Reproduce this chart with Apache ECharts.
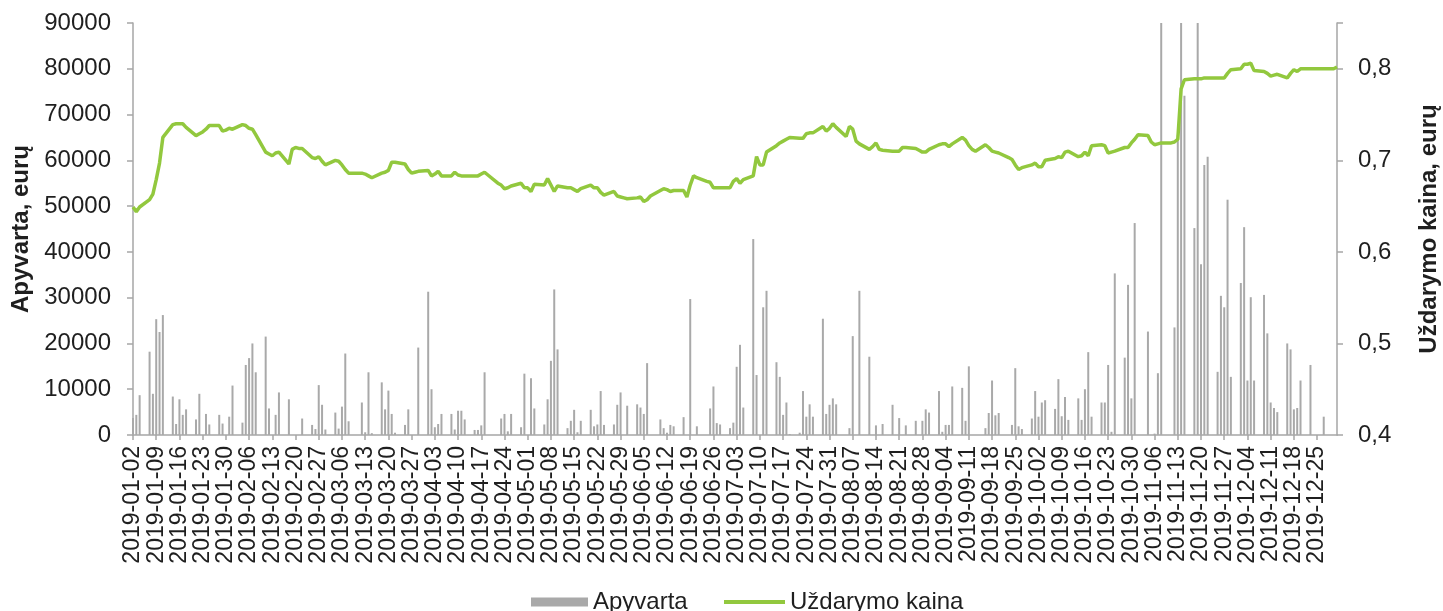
<!DOCTYPE html>
<html lang="lt">
<head>
    <meta charset="UTF-8">
    <title>Apyvarta ir uždarymo kaina 2019</title>
    <script src="https://cdn.jsdelivr.net/npm/echarts@6/dist/echarts.min.js"></script>
    <style>
        html, body { margin: 0; padding: 0; background: #fff; }
        #chart { width: 1443px; height: 611px; }
    </style>
</head>
<body>
<div id="chart"></div>

<script>
    // dienos apyvarta (eurai), po viena reikšmę kiekvienai darbo dienai (pirm.-penkt.)
    const turnoverJan = [3700, 4400, 8700, 18200, 9000, 25300, 22500, 26200, 8400, 2400, 7800, 4400, 5600, 3400, 9000, 0, 4600, 2300, 4400, 2500, 0, 4000];
    const turnoverFeb = [10800, 2700, 15300, 16800, 20000, 13700, 21500, 5800, 0, 4400, 9300, 7800, 0, 0, 0, 3600, 2200, 1300, 10900, 6600];
    const turnoverMar = [1200, 4900, 1400, 6200, 17800, 3000, 0, 7100, 600, 13700, 400, 11500, 5600, 9700, 4600, 500, 2200, 5600, 0, 0, 19100];
    const turnoverApr = [31300, 10000, 1700, 2400, 4600, 4600, 1200, 5300, 5300, 3400, 1100, 1100, 2100, 13700, 0, 0, 3600, 4600, 800, 4600, 1700, 13400];
    const turnoverMay = [0, 12400, 5800, 2300, 7800, 16200, 31800, 18700, 1500, 3100, 5500, 600, 3100, 5500, 1900, 2300, 9600, 2200, 2300, 6600, 9300, 0, 6400];
    const turnoverJun = [6700, 6000, 4600, 15700, 0, 3400, 1500, 500, 2200, 1900, 3900, 0, 29700, 0, 1900, 0, 5800, 10600, 2600, 2300];
    const turnoverJul = [1500, 2700, 14900, 19700, 6000, 42800, 13100, 0, 27900, 31500, 15900, 12700, 4400, 7100, 200, 500, 9600, 4000, 6700, 4000, 25400, 4600, 6600];
    const turnoverAug = [8000, 6700, 0, 1500, 21600, 0, 31500, 17100, 0, 2100, 0, 2400, 6600, 0, 3700, 0, 2100, 3100, 0, 3100, 5600, 4900];
    const turnoverSep = [9600, 700, 2200, 2200, 10600, 10300, 3100, 15000, 0, 0, 1500, 4800, 11900, 4300, 4800, 0, 2200, 14600, 1900, 1300, 3600];
    const turnoverOct = [9600, 4000, 7100, 7600, 5700, 12200, 4100, 8300, 3300, 8000, 3300, 10000, 18100, 4000, 7100, 7100, 15300, 700, 35300, 16900, 32800, 8000, 46300];
    const turnoverNov = [0, 22600, 0, 300, 13500, 105000, 0, 23500, 65600, 115000, 74100, 45200, 98000, 37300, 59000, 60800, 13800, 30400, 27900, 51400, 12700];
    const turnoverDec = [33200, 45400, 11900, 30100, 11900, 30600, 22200, 7100, 5900, 5000, 20000, 18700, 5600, 5900, 11900, 15300, 0, 0, 0, 4000, 0, 0];

    // uždarymo kaina (eurai)
    const priceJan = [0.649, 0.644, 0.649, 0.657, 0.663, 0.679, 0.697, 0.725, 0.739, 0.740, 0.740, 0.740, 0.736, 0.727, 0.729, 0.731, 0.734, 0.738, 0.738, 0.732, 0.733, 0.735];
    const priceFeb = [0.734, 0.739, 0.738, 0.735, 0.734, 0.728, 0.709, 0.707, 0.705, 0.708, 0.709, 0.696, 0.712, 0.714, 0.713, 0.713, 0.703, 0.702, 0.704, 0.699];
    const priceMar = [0.695, 0.700, 0.699, 0.695, 0.690, 0.686, 0.686, 0.686, 0.685, 0.683, 0.681, 0.686, 0.687, 0.689, 0.698, 0.698, 0.696, 0.690, 0.686, 0.687, 0.688];
    const priceApr = [0.689, 0.683, 0.685, 0.688, 0.683, 0.683, 0.687, 0.684, 0.683, 0.683, 0.683, 0.683, 0.685, 0.687, 0.684, 0.675, 0.673, 0.669, 0.670, 0.672, 0.675, 0.670];
    const priceMay = [0.670, 0.666, 0.674, 0.673, 0.680, 0.673, 0.666, 0.672, 0.670, 0.670, 0.668, 0.666, 0.669, 0.673, 0.670, 0.670, 0.665, 0.662, 0.666, 0.661, 0.660, 0.659, 0.658];
    const priceJun = [0.659, 0.660, 0.655, 0.657, 0.661, 0.667, 0.669, 0.668, 0.666, 0.667, 0.667, 0.660, 0.673, 0.683, 0.681, 0.677, 0.676, 0.670, 0.670, 0.670];
    const priceJul = [0.670, 0.677, 0.680, 0.675, 0.679, 0.683, 0.704, 0.695, 0.695, 0.709, 0.716, 0.719, 0.721, 0.723, 0.725, 0.724, 0.724, 0.729, 0.730, 0.730, 0.737, 0.732, 0.735];
    const priceAug = [0.740, 0.736, 0.726, 0.737, 0.734, 0.721, 0.718, 0.712, 0.715, 0.719, 0.712, 0.711, 0.710, 0.710, 0.710, 0.714, 0.714, 0.713, 0.711, 0.709, 0.709, 0.712];
    const priceSep = [0.717, 0.718, 0.718, 0.715, 0.718, 0.725, 0.722, 0.716, 0.712, 0.710, 0.717, 0.714, 0.710, 0.709, 0.708, 0.703, 0.701, 0.695, 0.690, 0.692, 0.695];
    const priceOct = [0.697, 0.693, 0.693, 0.700, 0.702, 0.704, 0.703, 0.709, 0.710, 0.704, 0.705, 0.709, 0.705, 0.716, 0.717, 0.716, 0.708, 0.709, 0.710, 0.714, 0.714, 0.719, 0.723];
    const priceNov = [0.728, 0.727, 0.720, 0.717, 0.718, 0.719, 0.719, 0.720, 0.723, 0.778, 0.788, 0.789, 0.789, 0.789, 0.790, 0.790, 0.790, 0.790, 0.790, 0.795, 0.799];
    const priceDec = [0.800, 0.805, 0.805, 0.806, 0.798, 0.797, 0.795, 0.792, 0.793, 0.794, 0.790, 0.795, 0.799, 0.797, 0.800, 0.800, 0.800, 0.800, 0.800, 0.800, 0.800, 0.802];

    const turnoverByMonth = [turnoverJan, turnoverFeb, turnoverMar, turnoverApr, turnoverMay, turnoverJun,
        turnoverJul, turnoverAug, turnoverSep, turnoverOct, turnoverNov, turnoverDec];
    const priceByMonth = [priceJan, priceFeb, priceMar, priceApr, priceMay, priceJun,
        priceJul, priceAug, priceSep, priceOct, priceNov, priceDec];

    // kalendorinės dienos ašiai: 2019-01-02 ... 2019-12-31
    const categories = [];
    const barData = [];
    const lineData = [];
    const used = new Array(12).fill(0);
    for (let t = Date.UTC(2019, 0, 2); t <= Date.UTC(2019, 11, 31); t += 86400000) {
        const d = new Date(t);
        categories.push(d.toISOString().slice(0, 10));
        const wd = d.getUTCDay();
        const m = d.getUTCMonth();
        if (wd === 0 || wd === 6) {
            barData.push(null);
            lineData.push(null);
            continue;
        }
        const i = used[m]++;
        barData.push(turnoverByMonth[m][i] ?? null);
        lineData.push(priceByMonth[m][i] ?? null);
    }

    const axisGray = '#a6a6a6';
    const textColor = '#1f1f1f';
    const font = 'Liberation Sans, Arial, sans-serif';

    const chart = echarts.init(document.getElementById('chart'));
    chart.setOption({
        animation: false,
        textStyle: { fontFamily: font },
        grid: { left: 133, right: 106, top: 23, bottom: 176, outerBoundsMode: 'none' },
        legend: [{
            data: ['Apyvarta'],
            left: 526, top: 585,
            icon: 'rect', itemWidth: 57, itemHeight: 9,
            textStyle: { fontSize: 24, color: textColor, fontFamily: font }
        }, {
            data: ['Uždarymo kaina'],
            left: 719, top: 585,
            icon: 'rect', itemWidth: 61, itemHeight: 4,
            textStyle: { fontSize: 24, color: textColor, fontFamily: font }
        }],
        xAxis: {
            type: 'category',
            data: categories,
            boundaryGap: false,
            axisLine: { lineStyle: { color: axisGray, width: 1.5 } },
            axisTick: { interval: 6, length: 5, lineStyle: { color: axisGray, width: 1.5 } },
            axisLabel: {
                interval: 6, rotate: 90, margin: 11,
                fontSize: 23, color: textColor, fontFamily: font
            },
            splitLine: { show: false }
        },
        yAxis: [{
            type: 'value',
            min: 0, max: 90000, interval: 10000,
            name: 'Apyvarta, eurų',
            nameLocation: 'middle',
            nameGap: 100,
            nameTextStyle: { fontSize: 24, fontWeight: 'bold', color: textColor, fontFamily: font },
            axisLine: { show: true, lineStyle: { color: axisGray, width: 1.5 } },
            axisTick: { show: true, length: 6, lineStyle: { color: axisGray, width: 1.5 } },
            axisLabel: { margin: 22, fontSize: 24, color: textColor, fontFamily: font, formatter: v => String(v) },
            splitLine: { show: false }
        }, {
            type: 'value',
            min: 0.4, max: 0.85, interval: 0.1,
            name: 'Uždarymo kaina, eurų',
            nameLocation: 'middle',
            nameRotate: 90,
            nameGap: 80,
            nameTextStyle: { fontSize: 24, fontWeight: 'bold', color: textColor, fontFamily: font },
            axisLine: { show: true, lineStyle: { color: axisGray, width: 1.5 } },
            axisTick: { show: true, length: 6, lineStyle: { color: axisGray, width: 1.5 } },
            axisLabel: {
                margin: 21, fontSize: 24, color: textColor, fontFamily: font,
                formatter: v => (Math.abs(v - 0.85) < 1e-6 ? '' : v.toFixed(1).replace('.', ','))
            },
            splitLine: { show: false }
        }],
        series: [{
            name: 'Apyvarta',
            type: 'bar',
            yAxisIndex: 0,
            data: barData,
            barWidth: 2,
            clip: true,
            itemStyle: { color: '#a9a9a9' }
        }, {
            name: 'Uždarymo kaina',
            type: 'line',
            yAxisIndex: 1,
            data: lineData,
            connectNulls: true,
            symbol: 'none',
            lineStyle: { color: '#92c83e', width: 3.5 },
            itemStyle: { color: '#92c83e' }
        }]
    });
</script>
</body>
</html>
